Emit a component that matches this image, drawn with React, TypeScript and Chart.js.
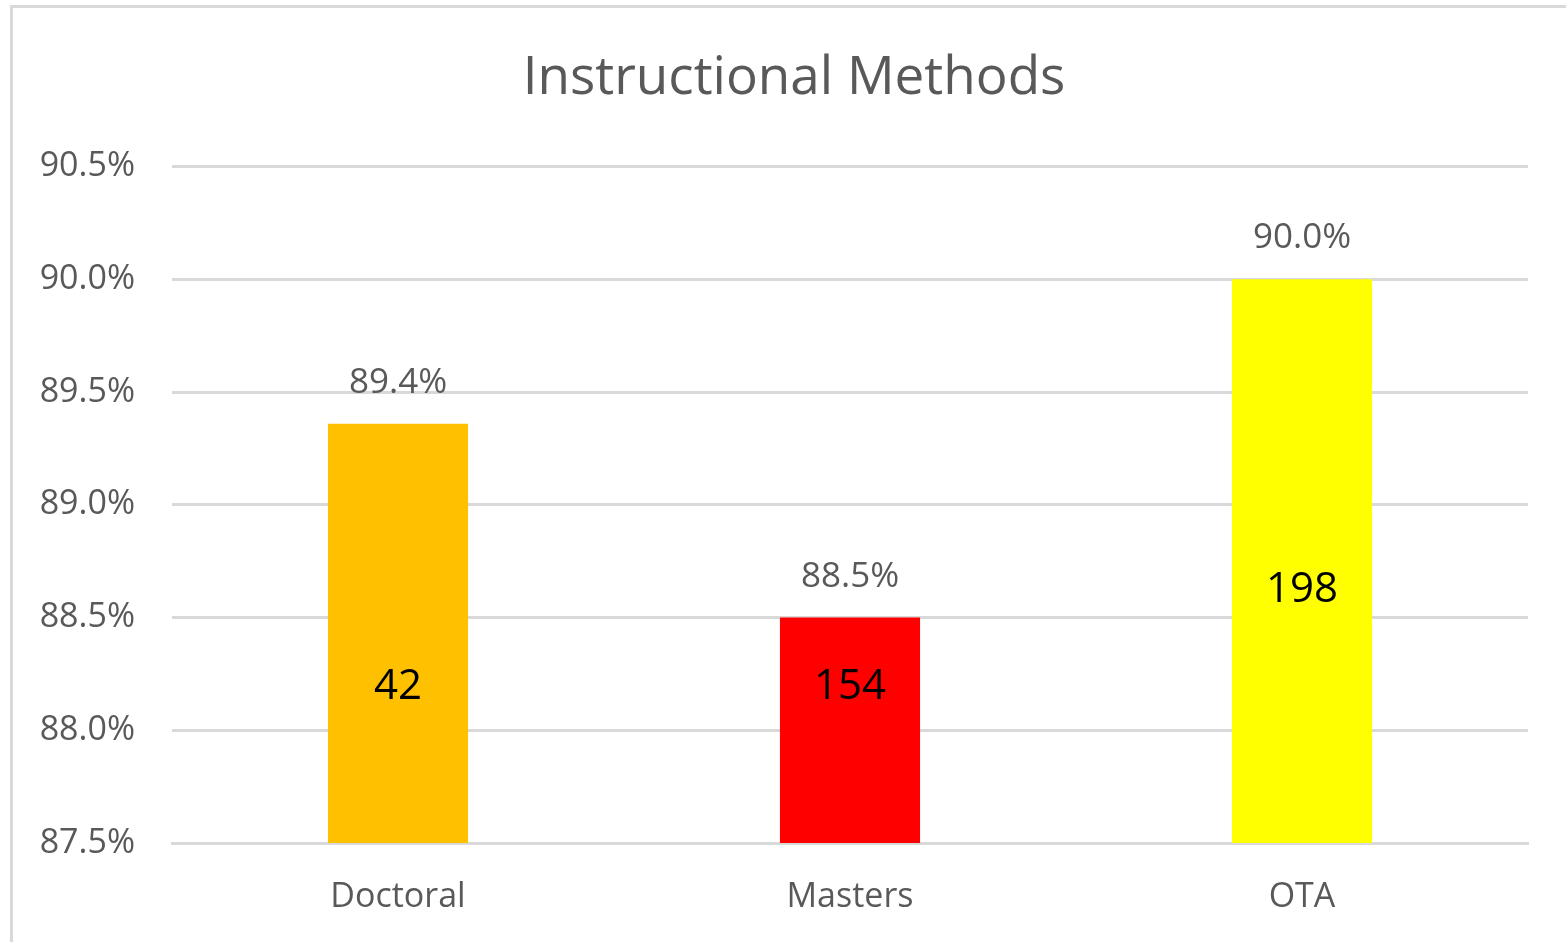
import React, { useEffect, useRef } from "react";
import { Chart, registerables } from "chart.js";

Chart.register(...registerables);

const categories = ["Doctoral", "Masters", "OTA"];
const rates = [89.36, 88.5, 90.0];
const counts = [42, 154, 198];
const countLabelAt = [88.19, 88.19, 88.62];
const barColors = ["#FFC000", "#FF0000", "#FFFF00"];
const yTicks = [87.5, 88.0, 88.5, 89.0, 89.5, 90.0, 90.5];
const titleText = "Instructional Methods";

const FONT = "'Open Sans', 'Liberation Sans', sans-serif";
const TITLE_SIZE = 53;

const labelPlugin = {
  id: "barLabels",
  afterDatasetsDraw(chart: any) {
    const ctx = chart.ctx;
    const meta = chart.getDatasetMeta(0);
    const yScale = chart.scales.y;
    ctx.save();
    ctx.textAlign = "center";
    ctx.textBaseline = "middle";
    meta.data.forEach((bar: any, i: number) => {
      ctx.fillStyle = "#595959";
      ctx.font = `35px ${FONT}`;
      ctx.fillText(rates[i].toFixed(1) + "%", bar.x, bar.y - 41);
      ctx.fillStyle = "#000000";
      ctx.font = `42px ${FONT}`;
      ctx.fillText(String(counts[i]), bar.x, yScale.getPixelForValue(countLabelAt[i]));
    });
    ctx.restore();
  },
  afterDraw(chart: any) {
    const ctx = chart.ctx;
    const tb = chart.titleBlock;
    if (!tb) return;
    ctx.save();
    ctx.textAlign = "center";
    ctx.textBaseline = "middle";
    ctx.fillStyle = "#595959";
    ctx.font = `${TITLE_SIZE}px ${FONT}`;
    const y = tb.top + 47 + (TITLE_SIZE * 1.2) / 2;
    ctx.fillText(titleText, chart.width / 2 + 11, y);
    ctx.restore();
  },
};

export default function App() {
  const ref = useRef<HTMLCanvasElement>(null);
  useEffect(() => {
    document.body.style.margin = "0";
    document.body.style.overflow = "hidden";
    const chart = new Chart(ref.current!, {
      type: "bar",
      data: {
        labels: categories,
        datasets: [
          {
            data: rates,
            backgroundColor: barColors,
            borderWidth: 0,
            barPercentage: 0.31,
            categoryPercentage: 1,
          },
        ],
      },
      options: {
        animation: false,
        responsive: false,
        devicePixelRatio: 1,
        layout: { padding: { left: 0, right: 38, top: 0, bottom: 0 } },
        plugins: {
          legend: { display: false },
          tooltip: { enabled: false },
          title: {
            display: true,
            text: titleText,
            color: "rgba(0,0,0,0)",
            font: { family: FONT, size: TITLE_SIZE, weight: "normal" },
            padding: { top: 47, bottom: 56 },
          },
        },
        scales: {
          x: {
            grid: { display: false },
            border: { display: true, color: "#d9d9d9", width: 3 },
            ticks: {
              color: "#595959",
              font: { family: FONT, size: 34 },
              padding: 26,
            },
            afterFit: (s: any) => {
              s.height = 99;
            },
          },
          y: {
            min: 87.5,
            max: 90.5,
            afterBuildTicks: (s: any) => {
              s.ticks = yTicks.map((v) => ({ value: v }));
            },
            grid: { color: "#d9d9d9", lineWidth: 3, drawTicks: false },
            border: { display: false },
            ticks: {
              color: "#595959",
              font: { family: FONT, size: 34 },
              padding: 37,
              callback: (v: any) => Number(v).toFixed(1) + "%",
            },
            afterFit: (s: any) => {
              s.width = 172;
            },
          },
        },
      },
      plugins: [labelPlugin],
    });
    return () => chart.destroy();
  }, []);

  return (
    <div
      style={{
        position: "fixed",
        left: 0,
        top: 0,
        width: 1566,
        height: 942,
        overflow: "hidden",
        background: "#ffffff",
      }}
    >
      <div
        style={{
          position: "absolute",
          left: 10,
          top: 5,
          width: 2000,
          height: 2000,
          border: "3px solid #d9d9d9",
        }}
      />
      <canvas
        ref={ref}
        width={1566}
        height={942}
        style={{ position: "absolute", left: 0, top: 0, width: 1566, height: 942 }}
      />
    </div>
  );
}
